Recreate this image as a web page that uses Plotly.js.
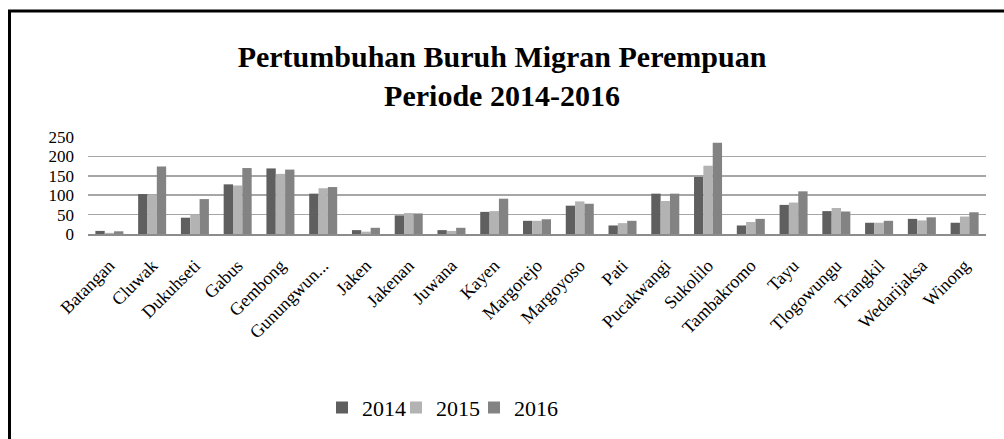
<!DOCTYPE html>
<html><head><meta charset="utf-8">
<script src="https://cdn.plot.ly/plotly-3.0.1.min.js"></script>
<style>html,body{margin:0;padding:0;background:#fff;}#chart{width:1004px;height:439px;}</style>
</head><body><div id="chart"></div>
<script>
const categories = ["Batangan","Cluwak","Dukuhseti","Gabus","Gembong","Gunungwun...","Jaken","Jakenan","Juwana","Kayen","Margorejo","Margoyoso","Pati","Pucakwangi","Sukolilo","Tambakromo","Tayu","Tlogowungu","Trangkil","Wedarijaksa","Winong"];
const v2014 = [8,103,42,128,169,104,10,48,10,57,34,73,22,104,147,22,75,59,29,39,29];
const v2015 = [3,101,50,125,155,118,6,54,8,59,34,84,28,85,176,31,81,67,29,35,45];
const v2016 = [7,174,90,170,166,121,16,53,16,91,38,78,34,104,235,39,110,58,34,43,56];
const seriesNames = ["2014","2015","2016"];
const tickVals = [0,50,100,150,200,250];

const colors = ["#5f5f5f","#b3b3b3","#838383"];
const legendIds = ['legend','legend2','legend3'];
const data = [v2014,v2015,v2016].map((v,i)=>({
  type:'bar', x:categories, y:v, name:seriesNames[i], legend:legendIds[i],
  marker:{color:colors[i], line:{width:0}}
}));
const font = "Liberation Serif, Times New Roman, serif";
const legLeft = [322, 396, 474];
const mkLegend = px => ({orientation:'h', x:(px-88)/898, xanchor:'left', y:-1.79, yanchor:'middle', font:{size:22}, itemwidth:30, bgcolor:'rgba(0,0,0,0)'});
const layout = {
  width:1004, height:439, autosize:false,
  margin:{l:88, r:18, t:137, b:205, autoexpand:false},
  paper_bgcolor:'#fff', plot_bgcolor:'#fff',
  font:{family:font, color:'#000'},
  barmode:'group', bargap:0.345, bargroupgap:0,
  title:{text:'<b>Pertumbuhan Buruh Migran Perempuan<br>Periode 2014-2016</b>', font:{family:font, size:30, color:'#000'}, x:0.5, xref:'container', y:1-67/439, yref:'container', yanchor:'top'},
  xaxis:{type:'category', tickangle:-45, tickfont:{size:18}, showgrid:false, showline:true, linecolor:'#8c8c8c', linewidth:2, ticks:'', ticklabelstandoff:12, fixedrange:true, automargin:false},
  yaxis:{range:[0,250], tickvals:tickVals, tickfont:{size:17}, showgrid:true, gridcolor:'#a6a6a6', gridwidth:1.5, zeroline:false, showline:false, ticks:'', ticklabelstandoff:13, automargin:false, fixedrange:true},
  legend:mkLegend(legLeft[0]), legend2:mkLegend(legLeft[1]), legend3:mkLegend(legLeft[2]),
  showlegend:true,
  shapes:[{type:'rect', xref:'paper', yref:'paper', x0:(9.5-88)/898, x1:(1030-88)/898, y0:(234-450)/97, y1:(234-11)/97, line:{color:'#000', width:3}, fillcolor:'rgba(0,0,0,0)'}]
};
Plotly.newPlot('chart', data, layout, {displayModeBar:false, staticPlot:true});
</script></body></html>
